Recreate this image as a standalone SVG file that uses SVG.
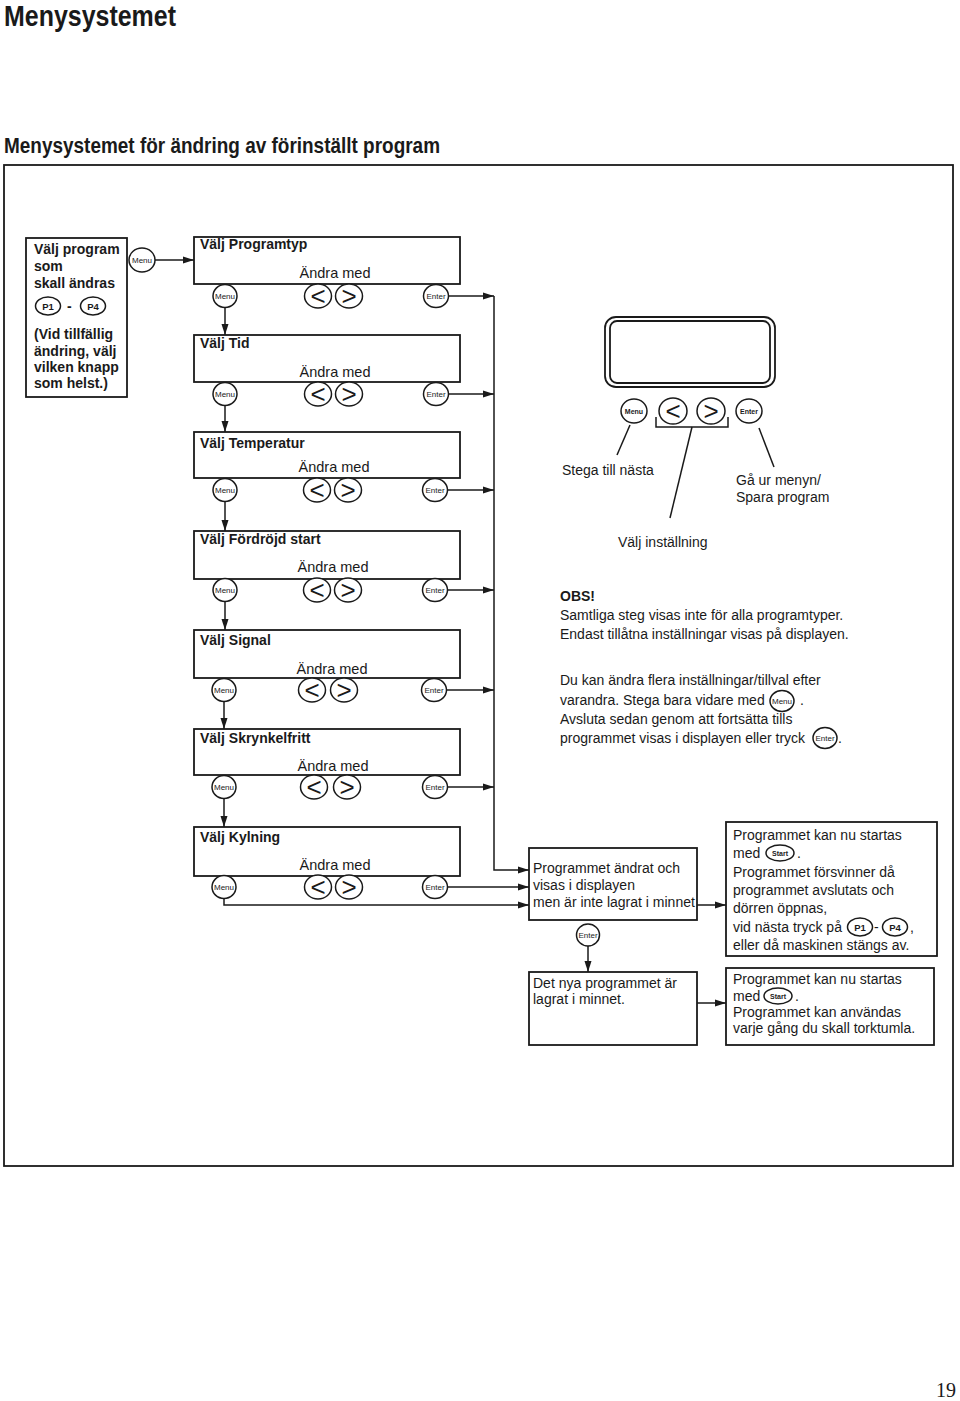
<svg xmlns="http://www.w3.org/2000/svg" width="960" height="1401" viewBox="0 0 960 1401">
<style>
text{font-family:"Liberation Sans",Arial,sans-serif;fill:#1a1a1a}
.box{fill:none;stroke:#1a1a1a;stroke-width:1.8}
.btn{fill:#fff;stroke:#1a1a1a;stroke-width:1.5}
.bt{font-size:8px;text-anchor:middle}
.btb{font-size:7px;font-weight:bold;text-anchor:middle}
.pb{font-size:9.5px;font-weight:bold;text-anchor:middle}
.ar{font-size:26px;text-anchor:middle}
.h{font-size:14px;font-weight:bold}
.t{font-size:14px}
.am{font-size:14.5px;text-anchor:middle}
.conn{fill:none;stroke:#1a1a1a;stroke-width:1.5}
</style>
<defs>
<marker id="arr" markerUnits="userSpaceOnUse" markerWidth="11" markerHeight="8" refX="11" refY="4" orient="auto">
<path d="M0,0.5 L11,4 L0,7.5 z" fill="#1a1a1a"/>
</marker>
</defs>
<rect width="960" height="1401" fill="#fff"/>
<text x="4" y="26" font-size="30" font-weight="bold" textLength="172" lengthAdjust="spacingAndGlyphs">Menysystemet</text>
<text x="4" y="153" font-size="22" font-weight="bold" textLength="436" lengthAdjust="spacingAndGlyphs">Menysystemet för ändring av förinställt program</text>
<rect x="4" y="165" width="949" height="1001" class="box" stroke-width="2"/>
<text x="936" y="1397" style="font-family:'Liberation Serif',serif" font-size="20">19</text>

<g id="start">
<rect x="26" y="238" width="101" height="159" class="box"/>
<text class="h" x="34" y="254">Välj program</text>
<text class="h" x="34" y="271">som</text>
<text class="h" x="34" y="288">skall ändras</text>
<ellipse cx="48" cy="306" rx="12.5" ry="9" class="btn"/>
<text class="pb" x="48" y="309.5">P1</text>
<text class="h" x="67" y="311">-</text>
<ellipse cx="93" cy="306" rx="12.5" ry="9" class="btn"/>
<text class="pb" x="93" y="309.5">P4</text>
<text class="h" x="34" y="339">(Vid tillfällig</text>
<text class="h" x="34" y="356">ändring, välj</text>
<text class="h" x="34" y="372">vilken knapp</text>
<text class="h" x="34" y="388">som helst.)</text>
<ellipse cx="142" cy="260" rx="13" ry="12" class="btn"/>
<text class="bt" x="142" y="263">Menu</text>
</g>

<g id="programtyp">
<rect x="194" y="237" width="266" height="47" class="box"/>
<text class="h" x="200" y="249">Välj Programtyp</text>
<text class="am" x="335" y="278">Ändra med</text>
<ellipse cx="225" cy="296" rx="12" ry="11.5" class="btn"/><text class="bt" x="225" y="299">Menu</text>
<ellipse cx="318" cy="296" rx="13.5" ry="12" class="btn"/><text class="ar" x="318" y="305">&lt;</text>
<ellipse cx="349" cy="296" rx="13.5" ry="12" class="btn"/><text class="ar" x="349" y="305">&gt;</text>
<ellipse cx="436" cy="296" rx="12.5" ry="11.5" class="btn"/><text class="bt" x="436" y="299">Enter</text>
</g>

<g id="tid">
<rect x="194" y="335" width="266" height="47" class="box"/>
<text class="h" x="200" y="348">Välj Tid</text>
<text class="am" x="335" y="377">Ändra med</text>
<ellipse cx="225" cy="394" rx="12" ry="11.5" class="btn"/><text class="bt" x="225" y="397">Menu</text>
<ellipse cx="318" cy="394" rx="13.5" ry="12" class="btn"/><text class="ar" x="318" y="403">&lt;</text>
<ellipse cx="349" cy="394" rx="13.5" ry="12" class="btn"/><text class="ar" x="349" y="403">&gt;</text>
<ellipse cx="436" cy="394" rx="12.5" ry="11.5" class="btn"/><text class="bt" x="436" y="397">Enter</text>
</g>

<g id="temperatur">
<rect x="194" y="432" width="266" height="46" class="box"/>
<text class="h" x="200" y="448">Välj Temperatur</text>
<text class="am" x="334" y="472">Ändra med</text>
<ellipse cx="225" cy="490" rx="12" ry="11.5" class="btn"/><text class="bt" x="225" y="493">Menu</text>
<ellipse cx="317" cy="490" rx="13.5" ry="12" class="btn"/><text class="ar" x="317" y="499">&lt;</text>
<ellipse cx="348" cy="490" rx="13.5" ry="12" class="btn"/><text class="ar" x="348" y="499">&gt;</text>
<ellipse cx="435" cy="490" rx="12.5" ry="11.5" class="btn"/><text class="bt" x="435" y="493">Enter</text>
</g>

<g id="fordrojd">
<rect x="194" y="531" width="266" height="48" class="box"/>
<text class="h" x="200" y="544">Välj Fördröjd start</text>
<text class="am" x="333" y="572">Ändra med</text>
<ellipse cx="225" cy="590" rx="12" ry="11.5" class="btn"/><text class="bt" x="225" y="593">Menu</text>
<ellipse cx="317" cy="590" rx="13.5" ry="12" class="btn"/><text class="ar" x="317" y="599">&lt;</text>
<ellipse cx="348" cy="590" rx="13.5" ry="12" class="btn"/><text class="ar" x="348" y="599">&gt;</text>
<ellipse cx="435" cy="590" rx="12.5" ry="11.5" class="btn"/><text class="bt" x="435" y="593">Enter</text>
</g>

<g id="signal">
<rect x="194" y="630" width="266" height="48" class="box"/>
<text class="h" x="200" y="645">Välj Signal</text>
<text class="am" x="332" y="674">Ändra med</text>
<ellipse cx="224" cy="690" rx="12" ry="11.5" class="btn"/><text class="bt" x="224" y="693">Menu</text>
<ellipse cx="312" cy="690" rx="13.5" ry="12" class="btn"/><text class="ar" x="312" y="699">&lt;</text>
<ellipse cx="344" cy="690" rx="13.5" ry="12" class="btn"/><text class="ar" x="344" y="699">&gt;</text>
<ellipse cx="434" cy="690" rx="12.5" ry="11.5" class="btn"/><text class="bt" x="434" y="693">Enter</text>
</g>

<g id="skrynkelfritt">
<rect x="194" y="729" width="266" height="46" class="box"/>
<text class="h" x="200" y="743">Välj Skrynkelfritt</text>
<text class="am" x="333" y="771">Ändra med</text>
<ellipse cx="224" cy="787" rx="12" ry="11.5" class="btn"/><text class="bt" x="224" y="790">Menu</text>
<ellipse cx="314" cy="787" rx="13.5" ry="12" class="btn"/><text class="ar" x="314" y="796">&lt;</text>
<ellipse cx="347" cy="787" rx="13.5" ry="12" class="btn"/><text class="ar" x="347" y="796">&gt;</text>
<ellipse cx="435" cy="787" rx="12.5" ry="11.5" class="btn"/><text class="bt" x="435" y="790">Enter</text>
</g>

<g id="kylning">
<rect x="194" y="827" width="266" height="49" class="box"/>
<text class="h" x="200" y="842">Välj Kylning</text>
<text class="am" x="335" y="870">Ändra med</text>
<ellipse cx="224" cy="887" rx="12" ry="11.5" class="btn"/><text class="bt" x="224" y="890">Menu</text>
<ellipse cx="318" cy="887" rx="13.5" ry="12" class="btn"/><text class="ar" x="318" y="896">&lt;</text>
<ellipse cx="349" cy="887" rx="13.5" ry="12" class="btn"/><text class="ar" x="349" y="896">&gt;</text>
<ellipse cx="435" cy="887" rx="12.5" ry="11.5" class="btn"/><text class="bt" x="435" y="890">Enter</text>
</g>

<g id="andrat">
<rect x="529" y="848" width="168" height="72" class="box"/>
<text class="t" x="533" y="873">Programmet ändrat och</text>
<text class="t" x="533" y="890">visas i displayen</text>
<text class="t" x="533" y="907">men är inte lagrat i minnet</text>
<ellipse cx="588" cy="935" rx="11.5" ry="11" class="btn"/><text class="bt" x="588" y="938">Enter</text>
</g>

<g id="lagrat">
<rect x="529" y="972" width="168" height="73" class="box"/>
<text class="t" x="533" y="988">Det nya programmet är</text>
<text class="t" x="533" y="1004">lagrat i minnet.</text>
</g>

<g id="info1">
<rect x="726" y="822" width="211" height="134" class="box"/>
<text class="t" x="733" y="840">Programmet kan nu startas</text>
<text class="t" x="733" y="858">med</text>
<ellipse cx="780" cy="853" rx="14" ry="8" class="btn"/><text class="btb" x="780" y="856">Start</text>
<text class="t" x="797" y="858">.</text>
<text class="t" x="733" y="877">Programmet försvinner då</text>
<text class="t" x="733" y="895">programmet avslutats och</text>
<text class="t" x="733" y="913">dörren öppnas,</text>
<text class="t" x="733" y="932">vid nästa tryck på</text>
<ellipse cx="860" cy="927" rx="12.5" ry="9" class="btn"/><text class="pb" x="860" y="930.5">P1</text>
<text class="t" x="874" y="932">-</text>
<ellipse cx="895" cy="927" rx="12.5" ry="9" class="btn"/><text class="pb" x="895" y="930.5">P4</text>
<text class="t" x="910" y="932">,</text>
<text class="t" x="733" y="950">eller då maskinen stängs av.</text>
</g>

<g id="info2">
<rect x="726" y="968" width="208" height="77" class="box"/>
<text class="t" x="733" y="984">Programmet kan nu startas</text>
<text class="t" x="733" y="1001">med</text>
<ellipse cx="778" cy="996" rx="14" ry="8" class="btn"/><text class="btb" x="778" y="999">Start</text>
<text class="t" x="795" y="1001">.</text>
<text class="t" x="733" y="1017">Programmet kan användas</text>
<text class="t" x="733" y="1033">varje gång du skall torktumla.</text>
</g>

<g id="device">
<rect x="605" y="317" width="170" height="70" rx="11" class="box"/>
<rect x="610" y="321" width="160" height="62" rx="7" class="box"/>
<ellipse cx="634" cy="411" rx="13" ry="12" class="btn"/><text class="btb" x="634" y="414">Menu</text>
<ellipse cx="673" cy="411" rx="14" ry="13" class="btn"/><text class="ar" x="673" y="420">&lt;</text>
<ellipse cx="711" cy="411" rx="14" ry="13" class="btn"/><text class="ar" x="711" y="420">&gt;</text>
<ellipse cx="749" cy="411" rx="13" ry="12" class="btn"/><text class="btb" x="749" y="414">Enter</text>
<path class="conn" d="M656,417 V427 H728 V417"/>
<path class="conn" d="M692,427 L670,518"/>
<path class="conn" d="M630,425 L617,455"/>
<path class="conn" d="M759,428 L774,467"/>
<text class="t" x="562" y="475">Stega till nästa</text>
<text class="t" x="736" y="485">Gå ur menyn/</text>
<text class="t" x="736" y="502">Spara program</text>
<text class="t" x="618" y="547">Välj inställning</text>
</g>

<g id="notes">
<text class="h" x="560" y="601">OBS!</text>
<text class="t" x="560" y="620">Samtliga steg visas inte för alla programtyper.</text>
<text class="t" x="560" y="639">Endast tillåtna inställningar visas på displayen.</text>
<text class="t" x="560" y="685">Du kan ändra flera inställningar/tillval efter</text>
<text class="t" x="560" y="705">varandra. Stega bara vidare med</text>
<ellipse cx="782" cy="701" rx="12" ry="10.5" class="btn"/><text class="bt" x="782" y="704">Menu</text>
<text class="t" x="800" y="705">.</text>
<text class="t" x="560" y="724">Avsluta sedan genom att fortsätta tills</text>
<text class="t" x="560" y="743">programmet visas i displayen eller tryck</text>
<ellipse cx="825" cy="738" rx="12" ry="10.5" class="btn"/><text class="bt" x="825" y="741">Enter</text>
<text class="t" x="838" y="743">.</text>
</g>

<g id="connectors">
<path class="conn" d="M155,260 H194" marker-end="url(#arr)"/>
<path class="conn" d="M225,307.5 V335" marker-end="url(#arr)"/>
<path class="conn" d="M225,405.5 V432" marker-end="url(#arr)"/>
<path class="conn" d="M225,501.5 V531" marker-end="url(#arr)"/>
<path class="conn" d="M225,601.5 V630" marker-end="url(#arr)"/>
<path class="conn" d="M224,701.5 V729" marker-end="url(#arr)"/>
<path class="conn" d="M224,798.5 V827" marker-end="url(#arr)"/>
<path class="conn" d="M448.5,296 H494" marker-end="url(#arr)"/>
<path class="conn" d="M448.5,394 H494" marker-end="url(#arr)"/>
<path class="conn" d="M447.5,490 H494" marker-end="url(#arr)"/>
<path class="conn" d="M447.5,590 H494" marker-end="url(#arr)"/>
<path class="conn" d="M446.5,690 H494" marker-end="url(#arr)"/>
<path class="conn" d="M447.5,787 H494" marker-end="url(#arr)"/>
<path class="conn" d="M494,296 V870 H529" marker-end="url(#arr)"/>
<path class="conn" d="M447.5,887 H529" marker-end="url(#arr)"/>
<path class="conn" d="M224,898.5 V905 H529" marker-end="url(#arr)"/>
<path class="conn" d="M697,905 H726" marker-end="url(#arr)"/>
<path class="conn" d="M588,946 V972" marker-end="url(#arr)"/>
<path class="conn" d="M697,1003 H726" marker-end="url(#arr)"/>
</g>
</svg>
